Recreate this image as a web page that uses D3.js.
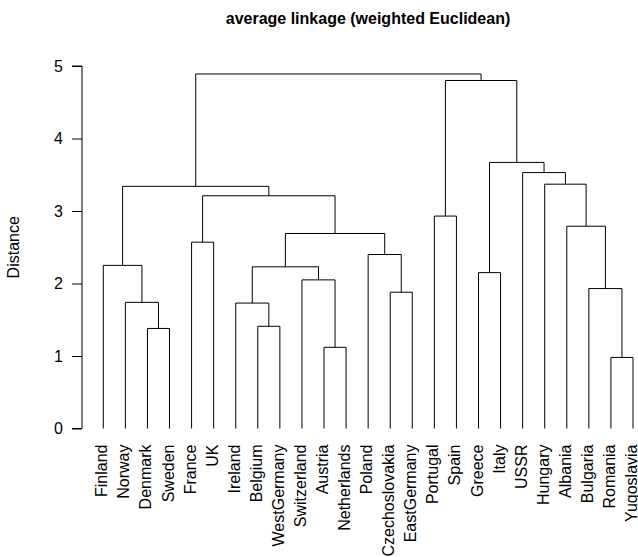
<!DOCTYPE html>
<html>
<head>
<meta charset="utf-8">
<script src="https://cdn.jsdelivr.net/npm/d3@7"></script>
<style>
  body { margin: 0; background: #fff; }
  svg { display: block; font-family: "Liberation Sans", Arial, Helvetica, sans-serif; }
</style>
</head>
<body>
<div id="chart"></div>
<script>
// leaf order as drawn
const leaves = ["Finland", "Norway", "Denmark", "Sweden", "France", "UK", "Ireland",
  "Belgium", "WestGermany", "Switzerland", "Austria", "Netherlands", "Poland",
  "Czechoslovakia", "EastGermany", "Portugal", "Spain", "Greece", "Italy", "USSR",
  "Hungary", "Albania", "Bulgaria", "Romania", "Yugoslavia"];

// merge steps: a string is a leaf, a number is an earlier merge step
const mergePairs = [
  ["Romania", "Yugoslavia"],   // 0
  ["Austria", "Netherlands"],  // 1
  ["Denmark", "Sweden"],       // 2
  ["Belgium", "WestGermany"],  // 3
  ["Ireland", 3],              // 4
  ["Norway", 2],               // 5
  ["Czechoslovakia", "EastGermany"], // 6
  ["Bulgaria", 0],             // 7
  ["Switzerland", 1],          // 8
  ["Greece", "Italy"],         // 9
  [4, 8],                      // 10
  ["Finland", 5],              // 11
  ["Poland", 6],               // 12
  ["France", "UK"],            // 13
  [10, 12],                    // 14
  ["Albania", 7],              // 15
  ["Portugal", "Spain"],       // 16
  [13, 14],                    // 17
  [11, 17],                    // 18
  ["Hungary", 15],             // 19
  ["USSR", 19],                // 20
  [9, 20],                     // 21
  [16, 21],                    // 22
  [18, 22]                     // 23
];
const mergeHeights = [0.98, 1.12, 1.38, 1.41, 1.73, 1.74, 1.88, 1.93, 2.05, 2.15,
  2.23, 2.25, 2.40, 2.57, 2.69, 2.79, 2.93, 3.21, 3.34, 3.37, 3.53, 3.67, 4.80, 4.89];

const yTicks = [0, 1, 2, 3, 4, 5];
const title = "average linkage (weighted Euclidean)";
const yLabel = "Distance";

const width = 638, height = 557;

const svg = d3.select('#chart').append('svg')
  .attr('width', width)
  .attr('height', height);

const xScale = d3.scalePoint().domain(leaves).range([103.3, 633]);
const yScale = d3.scaleLinear().domain([0, 5]).range([428.5, 66]);

// x and height of a leaf or merge node
const nodeX = [];
function pos(ref) {
  if (typeof ref === 'string') return { x: xScale(ref), h: 0 };
  return { x: nodeX[ref], h: mergeHeights[ref] };
}

const g = svg.append('g')
  .attr('fill', 'none')
  .attr('stroke', '#000')
  .attr('stroke-width', 1);

mergePairs.forEach(([a, b], i) => {
  const l = pos(a), r = pos(b);
  nodeX[i] = (l.x + r.x) / 2;
  const h = yScale(mergeHeights[i]);
  g.append('path')
    .attr('d', `M${l.x},${yScale(l.h)}V${h}H${r.x}V${yScale(r.h)}`);
});

// y axis
const yAxis = d3.axisLeft(yScale).tickValues(yTicks).tickSize(10).tickPadding(9).tickFormat(d3.format('d'));
const ax = svg.append('g').attr('transform', 'translate(82,0)').call(yAxis);
ax.select('.domain').attr('d', `M-10,${yScale(0)}H0V${yScale(5)}H-10`).attr('stroke', '#000');
ax.selectAll('.tick line').attr('stroke', '#000');
ax.selectAll('.tick text')
  .attr('font-size', 16)
  .attr('font-family', '"Liberation Sans", Arial, sans-serif')
  .attr('fill', '#000');

// leaf labels
svg.append('g').selectAll('text')
  .data(leaves)
  .join('text')
  .attr('transform', (d) => `translate(${xScale(d)},444.5) rotate(-90)`)
  .attr('text-anchor', 'end')
  .attr('dy', 4)
  .attr('font-size', 16)
  .text((d) => d);

// title
svg.append('text')
  .attr('x', 368)
  .attr('y', 24)
  .attr('text-anchor', 'middle')
  .attr('font-size', 16)
  .attr('font-weight', 'bold')
  .text(title);

// y label
svg.append('text')
  .attr('transform', `translate(18.5,${(yScale(0) + yScale(5)) / 2}) rotate(-90)`)
  .attr('text-anchor', 'middle')
  .attr('font-size', 16)
  .text(yLabel);
</script>
</body>
</html>
